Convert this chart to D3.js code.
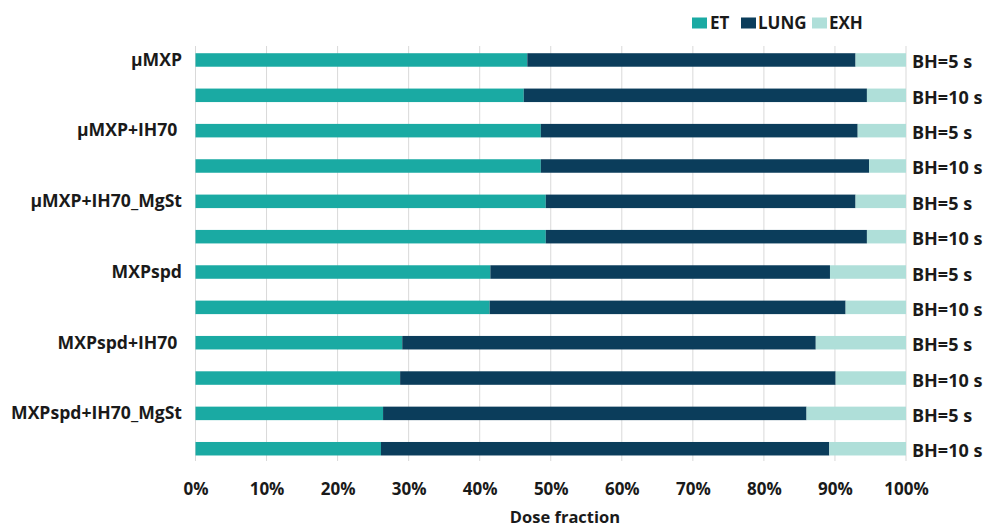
<!DOCTYPE html>
<html>
<head>
<meta charset="utf-8">
<script src="https://cdn.jsdelivr.net/npm/d3@7"></script>
<style>
  html, body { margin: 0; padding: 0; background: #fff; }
  svg { display: block; }
  text { font-family: "Open Sans", "DejaVu Sans", sans-serif; font-weight: 700; fill: #1a1a1a; white-space: pre; }
</style>
</head>
<body>
<svg id="chart" width="984" height="528"></svg>
<script>
// ---- data ----
const formulations = ["μMXP", "μMXP+IH70 ", "μMXP+IH70_MgSt", "MXPspd", "MXPspd+IH70 ", "MXPspd+IH70_MgSt"];
const breathHolds = ["BH=5 s", "BH=10 s"];
const seriesNames = ["ET", "LUNG", "EXH"];
const etValues   = [46.7, 46.2, 48.6, 48.6, 49.3, 49.3, 41.5, 41.4, 29.1, 28.8, 26.4, 26.1];
const lungValues = [46.2, 48.3, 44.6, 46.2, 43.6, 45.2, 47.8, 50.1, 58.2, 61.3, 59.6, 63.1];
const exhValues  = [7.1, 5.5, 6.8, 5.2, 7.1, 5.5, 10.7, 8.5, 12.7, 9.9, 14.0, 10.8];
const xTicks = [0, 10, 20, 30, 40, 50, 60, 70, 80, 90, 100];
const xTitle = "Dose fraction";

// ---- build rows ----
const rows = [];
formulations.forEach((f, i) => {
  breathHolds.forEach((b, j) => {
    const k = i * 2 + j;
    rows.push({ id: k, formulation: f, bh: b, first: j === 0, ET: etValues[k], LUNG: lungValues[k], EXH: exhValues[k] });
  });
});

const colors = { ET: "#1aaaa3", LUNG: "#0b3d5b", EXH: "#afdfd9" };

const svg = d3.select("#chart");
const x = d3.scaleLinear().domain([0, 100]).range([195.5, 906]);
const y = d3.scaleBand().domain(rows.map(d => d.id)).range([42.3, 466.4]).paddingInner(0.618).paddingOuter(0.309);

// gridlines
svg.append("g").selectAll("line").data(xTicks).join("line")
  .attr("x1", d => x(d)).attr("x2", d => x(d))
  .attr("y1", 46).attr("y2", 461)
  .attr("stroke", "#d9d9d9").attr("stroke-width", 1);

// stacked bars
const stack = d3.stack().keys(seriesNames)(rows);
svg.append("g").selectAll("g").data(stack).join("g")
  .attr("fill", s => colors[s.key])
  .selectAll("rect").data(s => s).join("rect")
  .attr("x", d => x(d[0]))
  .attr("width", d => x(d[1]) - x(d[0]))
  .attr("y", d => y(d.data.id))
  .attr("height", y.bandwidth());

// x axis labels
const xAxis = d3.axisBottom(x).tickValues(xTicks).tickFormat(d => d + "%").tickSize(0).tickPadding(0);
const gx = svg.append("g").attr("transform", "translate(0,483)").call(xAxis);
gx.select(".domain").remove();
gx.attr("font-family", null).attr("font-size", null);
gx.selectAll("text").attr("dy", "0.71em").style("font-size", "17px").attr("fill", "#1a1a1a");

// axis title
svg.append("text").attr("x", 565).attr("y", 523).attr("text-anchor", "middle")
  .style("font-size", "16.5px").text(xTitle);

// left category labels
svg.append("g").selectAll("text").data(rows.filter(d => d.first)).join("text")
  .attr("x", 182).attr("y", d => y(d.id) + y.bandwidth() / 2 + 5.8)
  .attr("text-anchor", "end").style("font-size", "17.6px")
  .text(d => d.formulation);

// right breath-hold labels
svg.append("g").selectAll("text").data(rows).join("text")
  .attr("x", 912).attr("y", d => y(d.id) + y.bandwidth() / 2 + 8.5)
  .attr("text-anchor", "start").style("font-size", "18px")
  .text(d => d.bh);

// legend
const legendPos = [{ sx: 692, tx: 710 }, { sx: 741, tx: 758 }, { sx: 812, tx: 829 }];
const lg = svg.append("g").selectAll("g").data(seriesNames).join("g");
lg.append("rect").attr("x", (d, i) => legendPos[i].sx).attr("y", 17.5).attr("width", 15).attr("height", 11)
  .attr("fill", d => colors[d]);
lg.append("text").attr("x", (d, i) => legendPos[i].tx).attr("y", 29).style("font-size", "17px").text(d => d);
</script>
</body>
</html>
